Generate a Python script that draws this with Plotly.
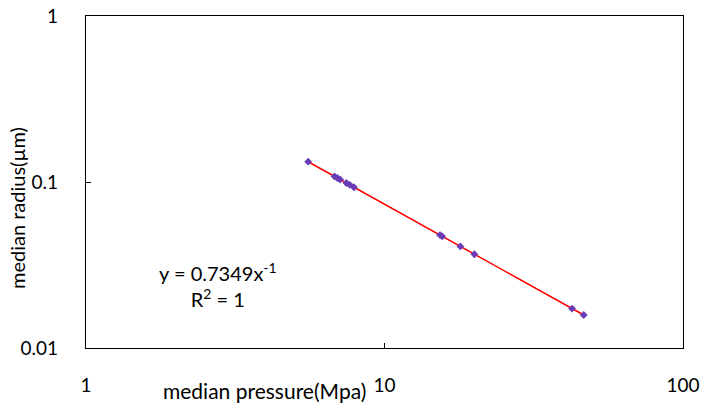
import numpy as np
import plotly.graph_objects as go

# Measured points: median pressure (MPa) vs median pore radius (µm)
pressure = [5.55, 6.80, 6.95, 7.10, 7.45, 7.65, 7.90, 15.35, 15.60, 17.95, 20.00, 42.5, 46.5]
radius = [0.1325, 0.1081, 0.1057, 0.1035, 0.0986, 0.0961, 0.0930, 0.0479, 0.0471, 0.0409, 0.0367, 0.01729, 0.01580]

# Power-law fit y = a * x^b
fit_a = 0.7349
fit_b = -1.0
fit_r2 = 1

x_ticks = [1, 10, 100]
y_ticks = [0.01, 0.1, 1]

FONT = "Lato"
TICK_SIZE = 19
TEXT_SIZE = 20

fit_x = np.geomspace(min(pressure), max(pressure), 50)
fit_y = fit_a * fit_x ** fit_b

fig = go.Figure()
fig.add_trace(go.Scatter(
    x=fit_x, y=fit_y, mode="lines",
    line=dict(color="#FF0000", width=1.5),
    hoverinfo="skip", showlegend=False,
))
fig.add_trace(go.Scatter(
    x=pressure, y=radius, mode="markers",
    marker=dict(symbol="diamond", size=6, color="#6A3BB5"),
    showlegend=False,
))

axis_common = dict(
    type="log", showgrid=False, zeroline=False, automargin=False,
    showline=True, linecolor="#000000", linewidth=1.2, mirror=True,
    ticks="inside", ticklen=5, tickcolor="#000000",
    tickfont=dict(family=FONT, size=TICK_SIZE, color="#000000"),
)

fig.update_xaxes(
    **axis_common, range=[0, 2],
    tickvals=x_ticks, ticktext=[str(v) for v in x_ticks],
    ticklabelstandoff=20,
)
fig.update_yaxes(
    **axis_common, range=[-2, 0],
    tickvals=y_ticks, ticktext=["0.01", "0.1", "1"],
    ticklabelstandoff=23,
)

fig.add_annotation(
    text="median pressure(Mpa)", xref="paper", yref="paper",
    x=(368 - 86) / 597, y=-(390 - 348) / 332, xanchor="right", yanchor="middle",
    showarrow=False, font=dict(family=FONT, size=21, color="#000000"),
)
fig.add_annotation(
    text="median radius(µm)", xref="paper", yref="paper",
    x=-(86 - 17) / 597, y=(348 - 208) / 332, xanchor="center", yanchor="middle",
    textangle=-90, showarrow=False, font=dict(family=FONT, size=TEXT_SIZE, color="#000000"),
)
fig.add_annotation(
    text=f"y = {fit_a}x<sup>{int(fit_b)}</sup><br>R<sup>2</sup> = {fit_r2}",
    xref="paper", yref="paper",
    x=(218 - 86) / 597, y=(348 - 285) / 332, xanchor="center", yanchor="middle",
    showarrow=False, align="center",
    font=dict(family=FONT, size=TEXT_SIZE, color="#000000"),
)

fig.update_layout(
    width=706, height=406,
    margin=dict(l=86, r=23, t=16, b=58),
    paper_bgcolor="#FFFFFF", plot_bgcolor="#FFFFFF",
    font=dict(family=FONT),
)

fig.write_html("out.html")
